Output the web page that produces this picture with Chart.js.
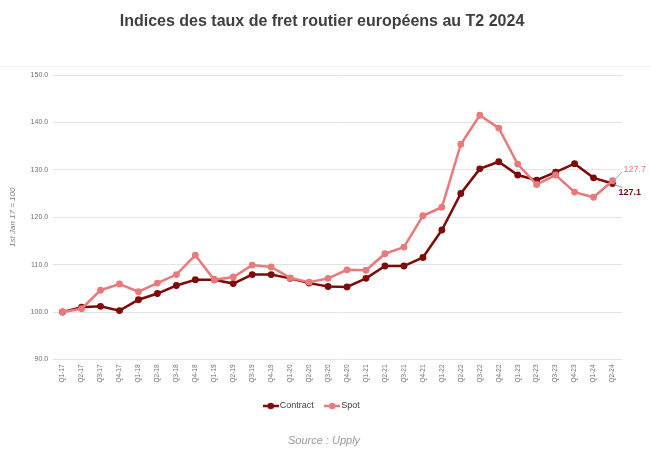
<!DOCTYPE html>
<html>
<head>
<meta charset="utf-8">
<script src="https://cdn.jsdelivr.net/npm/chart.js@4/dist/chart.umd.min.js"></script>
<style>
  html, body { margin: 0; padding: 0; background: #fff; }
  #wrap { width: 650px; height: 461px; }
</style>
</head>
<body>
<div id="wrap"><canvas id="graphique"></canvas></div>
<script>
const trimestres = [
  'Q1-17', 'Q2-17', 'Q3-17', 'Q4-17',
  'Q1-18', 'Q2-18', 'Q3-18', 'Q4-18',
  'Q1-19', 'Q2-19', 'Q3-19', 'Q4-19',
  'Q1-20', 'Q2-20', 'Q3-20', 'Q4-20',
  'Q1-21', 'Q2-21', 'Q3-21', 'Q4-21',
  'Q1-22', 'Q2-22', 'Q3-22', 'Q4-22',
  'Q1-23', 'Q2-23', 'Q3-23', 'Q4-23',
  'Q1-24', 'Q2-24'
];

const contrat = [
  100.0, 101.0, 101.2, 100.3,
  102.6, 103.9, 105.6, 106.8,
  106.8, 106.0, 107.9, 107.9,
  107.1, 106.1, 105.4, 105.3,
  107.1, 109.7, 109.7, 111.5,
  117.3, 125.0, 130.2, 131.7,
  128.9, 127.8, 129.5, 131.3,
  128.3, 127.1
];

const spot = [
  100.0, 100.7, 104.6, 105.9,
  104.3, 106.1, 107.9, 112.0,
  106.8, 107.4, 109.9, 109.5,
  107.2, 106.3, 107.1, 108.9,
  108.8, 112.3, 113.7, 120.3,
  122.1, 135.4, 141.5, 138.8,
  131.2, 126.9, 128.9, 125.3,
  124.2, 127.7
];

const titre = 'Indices des taux de fret routier européens au T2 2024';
const source = 'Source : Upply';

const couleurContrat = '#7e0a0a';
const couleurSpot = '#e87a7c';
const police = '"Liberation Sans", Arial, sans-serif';

function marqueur(couleur) {
  const c = document.createElement('canvas');
  c.width = 16; c.height = 8;
  const ctx = c.getContext('2d');
  ctx.strokeStyle = couleur;
  ctx.lineWidth = 2.5;
  ctx.beginPath(); ctx.moveTo(0, 4); ctx.lineTo(16, 4); ctx.stroke();
  ctx.fillStyle = couleur;
  ctx.beginPath(); ctx.arc(8, 4, 3.2, 0, Math.PI * 2); ctx.fill();
  return c;
}

const extras = {
  id: 'extras',
  afterDraw(chart) {
    const ctx = chart.ctx;
    const x = chart.scales.x, y = chart.scales.y;
    const n = trimestres.length - 1;
    const px = x.getPixelForValue(n);
    ctx.save();
    // titre
    ctx.font = 'bold 16px ' + police;
    ctx.fillStyle = '#404040';
    ctx.textAlign = 'center';
    ctx.textBaseline = 'middle';
    ctx.fillText(titre, 322, 21.5);
    // ligne du cadre
    ctx.strokeStyle = '#f0f0f0';
    ctx.lineWidth = 1;
    ctx.beginPath(); ctx.moveTo(0, 66.5); ctx.lineTo(650, 66.5); ctx.stroke();
    // étiquettes de fin
    ctx.textAlign = 'left';
    const ySpot = y.getPixelForValue(spot[n]);
    const yCon = y.getPixelForValue(contrat[n]);
    ctx.strokeStyle = '#a0a0a0';
    ctx.beginPath(); ctx.moveTo(px + 2, ySpot - 1); ctx.lineTo(px + 10, ySpot - 9); ctx.stroke();
    ctx.beginPath(); ctx.moveTo(px + 2, yCon + 1); ctx.lineTo(px + 10, yCon + 4); ctx.stroke();
    ctx.font = '9px ' + police;
    ctx.fillStyle = couleurSpot;
    ctx.fillText(spot[n].toFixed(1), px + 11, ySpot - 11);
    ctx.font = 'bold 9px ' + police;
    ctx.fillStyle = couleurContrat;
    ctx.fillText(contrat[n].toFixed(1), px + 6, yCon + 9);
    // source
    ctx.font = 'italic 11px ' + police;
    ctx.fillStyle = '#9a9a9a';
    ctx.textAlign = 'center';
    ctx.fillText(source, 324, 441);
    ctx.restore();
  }
};

new Chart(document.getElementById('graphique'), {
  type: 'line',
  data: {
    labels: trimestres,
    datasets: [{
      label: 'Contract',
      data: contrat,
      borderColor: couleurContrat,
      backgroundColor: couleurContrat,
      borderWidth: 2.5,
      pointRadius: 2.2,
      tension: 0,
      order: 2
    }, {
      label: 'Spot',
      data: spot,
      borderColor: couleurSpot,
      backgroundColor: couleurSpot,
      borderWidth: 2.5,
      pointRadius: 2.2,
      tension: 0,
      order: 1
    }]
  },
  plugins: [extras],
  options: {
    responsive: true,
    maintainAspectRatio: false,
    animation: false,
    layout: { padding: { left: 4, right: 28, top: 75, bottom: 40.5 } },
    scales: {
      x: {
        offset: true,
        grid: { display: false, drawTicks: false },
        border: { display: false },
        ticks: {
          color: '#707070',
          font: { size: 6.5, family: police },
          maxRotation: 90, minRotation: 90, autoSkip: false, padding: 5
        }
      },
      y: {
        min: 90, max: 150,
        border: { display: false },
        grid: { color: '#e3e3e3', drawTicks: false },
        ticks: {
          stepSize: 10,
          color: '#707070',
          padding: 5,
          font: { size: 7, family: police },
          callback: v => v.toFixed(1)
        },
        title: {
          display: true,
          text: '1st Jan 17 = 100',
          color: '#808080',
          font: { size: 8, style: 'italic', family: police },
          padding: { bottom: 8 }
        }
      }
    },
    plugins: {
      title: { display: false },
      legend: {
        position: 'bottom',
        labels: {
          usePointStyle: true,
          color: '#404040',
          font: { size: 9, family: police },
          padding: 14,
          boxWidth: 16,
          sort: (a, b) => a.datasetIndex - b.datasetIndex,
          generateLabels: chart => chart.data.datasets.map((ds, i) => ({
            text: ds.label,
            pointStyle: marqueur(ds.borderColor),
            fillStyle: ds.borderColor,
            strokeStyle: ds.borderColor,
            lineWidth: 0,
            fontColor: '#404040',
            hidden: !chart.isDatasetVisible(i),
            datasetIndex: i
          }))
        }
      },
      tooltip: { enabled: false }
    }
  }
});
</script>
</body>
</html>
